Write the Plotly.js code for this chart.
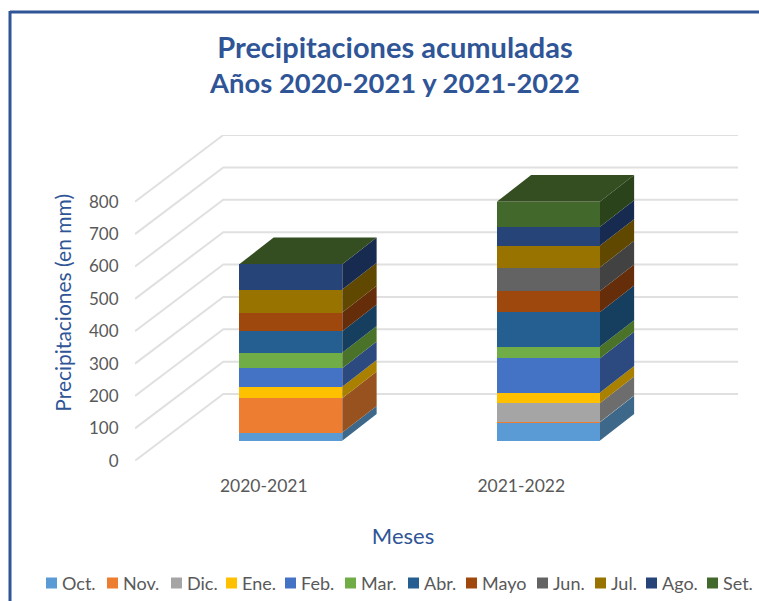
<!DOCTYPE html>
<html>
<head>
<meta charset="utf-8">
<script src="https://cdn.plot.ly/plotly-3.0.1.min.js"></script>
<style>html,body{margin:0;padding:0;background:#fff;overflow:hidden}</style>
</head>
<body>
<div id="chart" style="width:759px;height:601px"></div>
<script>
const categories = ['2020-2021', '2021-2022'];
const months = ['Oct.', 'Nov.', 'Dic.', 'Ene.', 'Feb.', 'Mar.', 'Abr.', 'Mayo', 'Jun.', 'Jul.', 'Ago.', 'Set.'];
const values2020 = [25, 106, 0, 36, 57, 48, 66, 58, 0, 71, 78, 0];
const values2021 = [56, 1, 59, 32, 106, 36, 107, 65, 73, 67, 58, 78];
const frontColors = ['#5B9BD5', '#ED7D31', '#A5A5A5', '#FFC000', '#4472C4', '#70AD47', '#255E91', '#9E480E', '#636363', '#997300', '#264478', '#43682B'];
const sideColors = ['#3D6889', '#98521F', '#6D6D6D', '#A98000', '#2C4A80', '#4B7229', '#163E5E', '#662D0A', '#424242', '#604800', '#172B50', '#2A431B'];
const topColor = '#344E21';
const yTicks = [0, 100, 200, 300, 400, 500, 600, 700, 800];
const legendLeft = [46, 107, 171, 226, 285, 345, 408, 466, 537, 595, 646, 707];

// Pixel frame of the pseudo-3D box (front floor corner to back wall)
const W = 759, H = 601;
const px = { left: 135, right: 738.3, bottom: 460.7, top: 135, axisRight: 671, yTop: 145 };
const pxPerMm = 0.3237, pxPerCat = 257.5;
const px2 = v => v / pxPerCat;
const py2 = v => v / pxPerMm;
const boxDx = px2(88.3), boxDy = py2(66.7);
const barDx = px2(34.4), barDy = py2(26.7);
const barShiftX = px2(27), barShiftY = py2(20);
const halfBar = 0.2;
const xr = v => v / W, yr = v => 1 - v / H;
const xMin = -0.5;
const xMaxFull = xMin + (px.right - px.left) / pxPerCat;
const xMaxAxis = xMin + (px.axisRight - px.left) / pxPerCat;
const yMaxFull = (px.bottom - px.top) / pxPerMm;

const traces = [];

// Floor-to-wall gridlines (hidden full-frame axes x / y, drawn first)
const gx = [], gy = [];
yTicks.forEach(t => {
  gx.push(xMin, xMin + boxDx, xMaxFull, null);
  gy.push(t, t + boxDy, t + boxDy, null);
});
traces.push({ type: 'scatter', mode: 'lines', x: gx, y: gy, xaxis: 'x', yaxis: 'y',
  line: { color: '#E0E0E0', width: 2 }, showlegend: false, hoverinfo: 'skip' });

// Side and top faces derived from the values
[values2020, values2021].forEach((vals, c) => {
  const right = c + barShiftX + halfBar;
  const left = c + barShiftX - halfBar;
  let acc = 0;
  vals.forEach((v, m) => {
    if (v > 0) {
      const a = acc + barShiftY, b = acc + v + barShiftY;
      traces.push({ type: 'scatter', mode: 'lines', fill: 'toself', xaxis: 'x', yaxis: 'y',
        x: [right, right + barDx, right + barDx, right, right],
        y: [a, a + barDy, b + barDy, b, a],
        line: { width: 0, color: sideColors[m] }, fillcolor: sideColors[m],
        showlegend: false, hoverinfo: 'skip' });
    }
    acc += v;
  });
  const t = acc + barShiftY;
  traces.push({ type: 'scatter', mode: 'lines', fill: 'toself', xaxis: 'x', yaxis: 'y',
    x: [left, right, right + barDx, left + barDx, left],
    y: [t, t, t + barDy, t + barDy, t],
    line: { width: 0, color: topColor }, fillcolor: topColor,
    showlegend: false, hoverinfo: 'skip' });
});

// Invisible trace that keeps the visible value axis alive
traces.push({ type: 'scatter', mode: 'lines', x: yTicks.map(() => categories[0]), y: yTicks,
  xaxis: 'x2', yaxis: 'y2', line: { width: 0 }, showlegend: false, hoverinfo: 'skip' });

// Front faces: real stacked bars
months.forEach((m, i) => {
  traces.push({ type: 'bar', name: m, x: categories, y: [values2020[i], values2021[i]],
    xaxis: 'x2', yaxis: 'y3', width: 2 * halfBar, offset: barShiftX - halfBar,
    marker: { color: frontColors[i], line: { width: 0 } }, showlegend: false });
});

const font = 'Lato, "Open Sans", sans-serif';
const blue = '#2F5597', grey = '#595959';
const shapes = [
  { type: 'line', xref: 'paper', yref: 'paper', x0: xr(10), x1: 1, y0: yr(12), y1: yr(12), line: { color: blue, width: 3 } },
  { type: 'line', xref: 'paper', yref: 'paper', x0: xr(10), x1: xr(10), y0: yr(11), y1: 0, line: { color: blue, width: 3 } }
];
const annotations = [];
months.forEach((m, i) => {
  shapes.push({ type: 'rect', xref: 'paper', yref: 'paper', x0: xr(legendLeft[i]), x1: xr(legendLeft[i] + 11),
    y0: yr(588.5), y1: yr(577.5), fillcolor: frontColors[i], line: { width: 0 } });
  annotations.push({ xref: 'paper', yref: 'paper', x: xr(legendLeft[i] + 16), y: yr(583), xanchor: 'left', yanchor: 'middle',
    text: m, showarrow: false, font: { size: 18, color: grey }, borderpad: 0, borderwidth: 0 });
});

const layout = {
  width: W, height: H,
  margin: { l: 0, r: 0, t: 0, b: 0 },
  paper_bgcolor: '#fff', plot_bgcolor: 'rgba(0,0,0,0)',
  barmode: 'stack', showlegend: false,
  font: { family: font, color: grey },
  title: { text: '<span style="font-size:29px">Precipitaciones acumuladas</span><br>Años 2020-2021 y 2021-2022',
    font: { family: font, size: 27.4, color: blue, weight: 700 },
    x: xr(395), xanchor: 'center', xref: 'paper', y: yr(57.5), yanchor: 'middle', yref: 'paper' },
  xaxis: { type: 'linear', domain: [xr(px.left), xr(px.right)], range: [xMin, xMaxFull],
    anchor: 'y', visible: false },
  yaxis: { domain: [yr(px.bottom), yr(px.top)], range: [0, yMaxFull], anchor: 'x', visible: false },
  xaxis2: { type: 'category', categoryarray: categories, domain: [xr(px.left), xr(px.axisRight)],
    range: [xMin, xMaxAxis], anchor: 'y2', showgrid: false, showline: false, zeroline: false,
    ticks: 'outside', ticklen: 9, tickcolor: 'rgba(0,0,0,0)', tickfont: { size: 17.5, color: grey },
    title: { text: 'Meses', font: { size: 22, color: blue }, standoff: 33 } },
  yaxis2: { domain: [yr(px.bottom), yr(px.yTop)], range: [0, (px.bottom - px.yTop) / pxPerMm], anchor: 'x2',
    tickmode: 'array', tickvals: yTicks, showgrid: false, showline: false, zeroline: false,
    ticks: 'outside', ticklen: 12, tickcolor: 'rgba(0,0,0,0)', tickfont: { size: 17, color: grey },
    title: { text: 'Precipitaciones (en mm)', font: { size: 21, color: blue }, standoff: 11 } },
  yaxis3: { domain: [yr(px.bottom), yr(px.top)], range: [-barShiftY, yMaxFull - barShiftY], anchor: 'x2', visible: false },
  shapes, annotations
};
Plotly.newPlot('chart', traces, layout, { displayModeBar: false, responsive: false });
</script>
</body>
</html>
